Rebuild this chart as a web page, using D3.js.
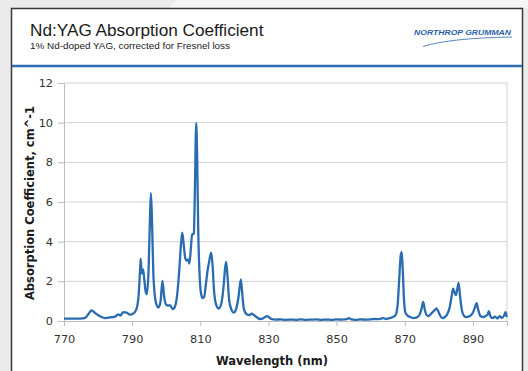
<!DOCTYPE html>
<html><head><meta charset="utf-8">
<script src="https://cdn.jsdelivr.net/npm/d3@7"></script>
<style>
html,body{margin:0;padding:0;background:#ebebec;}
svg{display:block;}
</style></head>
<body>
<script>
// ---- data ----
const title = "Nd:YAG Absorption Coefficient";
const subtitle = "1% Nd-doped YAG, corrected for Fresnel loss";
const logoText = "NORTHROP GRUMMAN";
const xLabel = "Wavelength (nm)";
const yLabel = "Absorption Coefficient, cm^-1";
const xTicks = [770, 790, 810, 830, 850, 870, 890];
const yTicks = [0, 2, 4, 6, 8, 10, 12];

const wavelength = [
 770,772,774,775.5,776.5,777.3,778.1,779,780.1,781,782,783,784,785,785.5,786,786.5,787.4,788.4,789.4,
 790.2,790.9,791.5,791.9,792.3,792.5,792.8,793.2,793.5,794.0,794.3,794.8,795.2,795.5,795.8,796.2,796.7,797.2,797.7,798.3,
 798.9,799.4,800.0,800.6,801.1,801.9,802.5,803.2,803.8,804.3,804.7,805.1,805.6,805.9,806.4,806.8,807.2,807.6,808.1,808.4,
 808.8,809.1,809.4,809.8,810.2,810.7,811.1,811.6,812.1,812.6,813.2,813.6,814.0,814.6,815.4,816.2,816.8,817.3,817.6,818.0,
 818.5,819.2,819.8,820.5,821.2,821.9,822.3,822.8,823.7,824.4,825.1,825.7,826.5,827.5,828.3,829.0,829.6,830.3,831,832,
 833.5,835,836.5,838,839.5,841,842.5,844,845.5,847,848.5,850,851.5,853,853.6,854.3,855.5,857,858.5,860,
 861,862,863,863.7,864.5,865.5,866.5,867.3,867.9,868.4,868.8,869.1,869.4,869.8,870.2,871,871.7,872.5,873.5,874.3,
 874.9,875.4,875.9,876.4,877.0,877.6,878.2,878.8,879.3,879.8,880.3,881,881.8,882.5,883.2,883.8,884.2,884.6,885.0,885.4,
 885.8,886.2,886.7,887.3,888,888.7,889.5,890.2,890.7,891.1,891.5,892.2,893,893.7,894.3,894.7,895.1,895.8,896.5,897.2,
 897.8,898.5,899.2,899.6,899.9
];
const absorption = [
 0.12,0.12,0.12,0.13,0.2,0.38,0.54,0.42,0.29,0.2,0.15,0.17,0.19,0.22,0.29,0.33,0.27,0.45,0.42,0.32,
 0.36,0.48,0.75,1.3,2.5,3.15,2.4,2.6,2.2,1.45,1.35,2.5,5.0,6.45,5.2,2.5,1.2,0.8,0.68,0.95,
 2.02,1.2,0.82,0.78,0.8,0.6,0.7,1.3,2.5,3.8,4.45,3.9,3.15,3.05,3.1,2.9,3.6,4.35,4.4,6.5,
 9.97,8.0,4.5,2.3,1.4,1.15,1.2,1.8,2.5,3.0,3.45,2.8,1.6,0.85,0.63,0.9,1.7,2.7,2.98,2.2,
 1.0,0.55,0.42,0.6,1.2,2.1,1.4,0.6,0.33,0.3,0.37,0.3,0.2,0.1,0.12,0.2,0.25,0.17,0.09,0.07,
 0.08,0.06,0.07,0.06,0.08,0.06,0.07,0.08,0.06,0.07,0.06,0.08,0.07,0.09,0.15,0.08,0.06,0.08,0.07,0.08,
 0.1,0.09,0.12,0.15,0.1,0.15,0.2,0.3,0.8,2.2,3.3,3.47,2.6,1.0,0.42,0.25,0.2,0.15,0.18,0.3,
 0.6,0.96,0.55,0.3,0.25,0.35,0.45,0.55,0.64,0.5,0.3,0.15,0.2,0.35,0.7,1.3,1.63,1.45,1.3,1.6,
 1.92,1.3,0.6,0.28,0.2,0.22,0.3,0.5,0.75,0.9,0.6,0.25,0.2,0.25,0.32,0.5,0.25,0.15,0.22,0.12,
 0.25,0.15,0.3,0.45,0.2
];

// ---- drawing ----
const W = 528, H = 371;
const svg = d3.select("body").append("svg").attr("width", W).attr("height", H);

// background / card
svg.append("rect").attr("width", W).attr("height", H).attr("fill", "#ebebec");
svg.append("path").attr("d", "M176,0 L528,0 L528,8 L170,8 Z").attr("fill", "#f5f5f5");
svg.append("rect").attr("x", 11.5).attr("y", 8.5).attr("width", 511).attr("height", 380)
  .attr("fill", "#ffffff").attr("stroke", "#3a3a3a").attr("stroke-width", 1.5);
svg.append("line").attr("x1", 12).attr("x2", 522).attr("y1", 66).attr("y2", 66)
  .attr("stroke", "#2f6db3").attr("stroke-width", 2.5);

// titles
svg.append("text").attr("x", 30).attr("y", 36).text(title)
  .attr("font-family", "Liberation Sans, Arial, sans-serif").attr("font-size", 17.2).attr("fill", "#1a1a1a");
svg.append("text").attr("x", 30).attr("y", 49).text(subtitle)
  .attr("font-family", "Liberation Sans, Arial, sans-serif").attr("font-size", 9.9).attr("fill", "#1a1a1a");

// logo
svg.append("text").attr("x", 414).attr("y", 35).text(logoText)
  .attr("font-family", "Liberation Sans, Arial, sans-serif").attr("font-size", 7.6)
  .attr("font-weight", "bold").attr("font-style", "italic").attr("fill", "#2a5fa8")
  .attr("textLength", 97).attr("lengthAdjust", "spacingAndGlyphs");
svg.append("path").attr("d", "M423,46.5 Q450,38 512,37").attr("fill", "none")
  .attr("stroke", "#5b87c0").attr("stroke-width", 1);

// plot
const m = {l: 64, r: 507, t: 83, b: 321};
const x = d3.scaleLinear().domain([770, 900]).range([m.l, m.r]);
const y = d3.scaleLinear().domain([0, 12]).range([m.b, m.t]);

const g = svg.append("g");
g.selectAll("line.grid").data(yTicks.filter(d => d > 0)).join("line")
  .attr("x1", m.l).attr("x2", m.r).attr("y1", d => y(d)).attr("y2", d => y(d))
  .attr("stroke", "#d2d2d2").attr("stroke-width", 1);
g.append("line").attr("x1", m.r).attr("x2", m.r).attr("y1", m.t).attr("y2", m.b)
  .attr("stroke", "#d2d2d2");

const tickFont = "DejaVu Sans, Verdana, sans-serif";
const yAxis = svg.append("g").attr("transform", `translate(${m.l},0)`)
  .call(d3.axisLeft(y).tickValues(yTicks).tickSize(6).tickPadding(5).tickFormat(d3.format("d")));
const xAxis = svg.append("g").attr("transform", `translate(0,${m.b})`)
  .call(d3.axisBottom(x).tickValues(xTicks).tickSize(5).tickPadding(6).tickFormat(d3.format("d")));
[xAxis, yAxis].forEach(a => {
  a.select(".domain").attr("stroke", "#bdbdbd");
  a.selectAll(".tick line").attr("stroke", "#bdbdbd");
  a.selectAll("text").attr("font-family", tickFont).attr("font-size", 11.3).attr("fill", "#333");
});
xAxis.selectAll("text").attr("dy", "0.95em");

// line
const pts = wavelength.map((w, i) => [w, absorption[i]]);
svg.append("path").datum(pts)
  .attr("d", d3.line().x(d => x(d[0])).y(d => y(d[1])).curve(d3.curveMonotoneX))
  .attr("fill", "none").attr("stroke", "#2b6cb1").attr("stroke-width", 2.3)
  .attr("stroke-linejoin", "round");

// axis labels
svg.append("text").attr("x", 272).attr("y", 365).attr("text-anchor", "middle").text(xLabel)
  .attr("font-family", tickFont).attr("font-size", 11.5).attr("font-weight", "bold").attr("fill", "#1a1a1a");
svg.append("text").attr("transform", "translate(34,203) rotate(-90)").attr("text-anchor", "middle").text(yLabel)
  .attr("font-family", tickFont).attr("font-size", 11.5).attr("font-weight", "bold").attr("fill", "#1a1a1a");
</script>
</body></html>
